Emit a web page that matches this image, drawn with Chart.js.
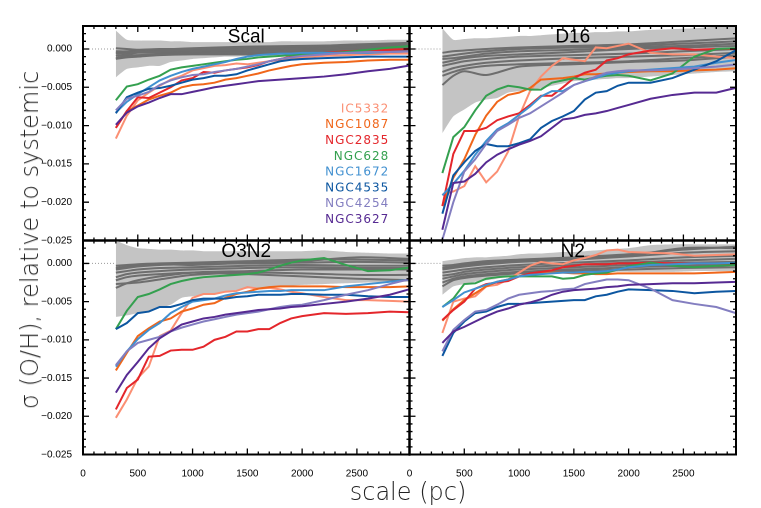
<!DOCTYPE html>
<html>
<head>
<meta charset="utf-8">
<script src="https://cdn.jsdelivr.net/npm/chart.js@4.4.1/dist/chart.umd.min.js"></script>
<style>
  html, body { margin: 0; padding: 0; background: #fff; }
  #wrap { position: relative; width: 761px; height: 508px; overflow: hidden; }
  #wrap canvas { position: absolute; left: 0; top: 0; }
  .ytitle, .xtitle {
    position: absolute; white-space: nowrap; color: #222;
    font-family: 'DejaVu Sans'; font-weight: 200; font-size: 24px; line-height: 24px;
  }
  .ytitle { left: 30px; top: 240px; transform: translate(-50%, -50%) rotate(-90deg); }
  .xtitle { left: 408px; top: 480px; transform: translateX(-50%); }
</style>
</head>
<body>
<div id="wrap">
  <canvas id="pScal" width="761" height="508"></canvas>
  <canvas id="pD16" width="761" height="508"></canvas>
  <canvas id="pO3N2" width="761" height="508"></canvas>
  <canvas id="pN2" width="761" height="508"></canvas>
  <div class="ytitle">σ (O/H), relative to systemic</div>
  <div class="xtitle">scale (pc)</div>
</div>
<script>
// scale (pc) sampling of the galaxy curves and of the grey comparison curves
const xs = [300, 400, 500, 600, 700, 800, 900, 1000, 1100, 1200, 1300, 1400, 1500, 1600, 1700, 1800, 1900, 2000, 2200, 2400, 2600, 2800, 3000];
const grayX = [300, 400, 500, 700, 1000, 1500, 2000, 2500, 3000];

const galaxies = ['IC5332', 'NGC1087', 'NGC2835', 'NGC628', 'NGC1672', 'NGC4535', 'NGC4254', 'NGC3627'];
const galaxyColors = ['#fb8f73', '#f0661a', '#e4262b', '#34a04f', '#4190d0', '#0c56a0', '#837ec0', '#562a92'];

const panelTitles = ['Scal', 'D16', 'O3N2', 'N2'];

const xTicks = [0, 500, 1000, 1500, 2000, 2500];
const xTickLabels = ['0', '500', '1000', '1500', '2000', '2500'];
const yTicks = [-0.025, -0.02, -0.015, -0.01, -0.005, 0];
const yTickLabels = ['\u22120.025', '\u22120.020', '\u22120.015', '\u22120.010', '\u22120.005', '0.000'];

// ---- Scal ----
const scalLines = [
  [-0.0117, -0.0087, -0.0067, -0.0057, -0.0048, -0.0040, -0.0035, -0.0028, -0.0025, -0.0022, -0.0021, -0.0019, -0.0020, -0.0018, -0.0016, -0.0014, -0.0012, -0.0011, -0.0009, -0.0008, -0.0007, -0.0006, -0.0006],
  [-0.0103, -0.0081, -0.0074, -0.0066, -0.0061, -0.0057, -0.0050, -0.0047, -0.0046, -0.0044, -0.0040, -0.0038, -0.0035, -0.0032, -0.0028, -0.0025, -0.0022, -0.0020, -0.0018, -0.0017, -0.0015, -0.0014, -0.0014],
  [-0.0103, -0.0081, -0.0063, -0.0064, -0.0057, -0.0050, -0.0041, -0.0038, -0.0030, -0.0031, -0.0028, -0.0026, -0.0024, -0.0021, -0.0016, -0.0013, -0.0010, -0.0008, -0.0005, -0.0003, -0.0002, -0.0001, 0.0000],
  [-0.0067, -0.0049, -0.0046, -0.0040, -0.0035, -0.0027, -0.0024, -0.0022, -0.0020, -0.0018, -0.0016, -0.0014, -0.0013, -0.0011, -0.0010, -0.0009, -0.0008, -0.0007, -0.0006, -0.0004, -0.0001, 0.0002, 0.0004],
  [-0.0083, -0.0069, -0.0059, -0.0050, -0.0041, -0.0035, -0.0030, -0.0026, -0.0023, -0.0020, -0.0017, -0.0013, -0.0010, -0.0008, -0.0007, -0.0006, -0.0006, -0.0005, -0.0005, -0.0005, -0.0005, -0.0004, -0.0003],
  [-0.0084, -0.0063, -0.0057, -0.0052, -0.0051, -0.0048, -0.0044, -0.0040, -0.0038, -0.0035, -0.0035, -0.0033, -0.0028, -0.0024, -0.0020, -0.0016, -0.0014, -0.0013, -0.0012, -0.0011, -0.0010, -0.0010, -0.0010],
  [-0.0080, -0.0065, -0.0061, -0.0056, -0.0047, -0.0041, -0.0037, -0.0034, -0.0033, -0.0030, -0.0028, -0.0026, -0.0023, -0.0020, -0.0016, -0.0013, -0.0011, -0.0009, -0.0007, -0.0005, -0.0004, -0.0004, -0.0003],
  [-0.0099, -0.0083, -0.0075, -0.0070, -0.0064, -0.0059, -0.0059, -0.0056, -0.0053, -0.0050, -0.0048, -0.0046, -0.0044, -0.0042, -0.0041, -0.0040, -0.0039, -0.0038, -0.0036, -0.0033, -0.0029, -0.0026, -0.0021]
];
const scalBandHi = [0.0024, 0.0012, 0.0011, 0.0011, 0.0011, 0.0010, 0.0010, 0.0009, 0.0009, 0.0009, 0.0009, 0.0009, 0.0009, 0.0009, 0.0009, 0.0010, 0.0010, 0.0010, 0.0010, 0.0011, 0.0011, 0.0012, 0.0012];
const scalBandLo = [-0.0037, -0.0026, -0.0024, -0.0022, -0.0022, -0.0017, -0.0015, -0.0013, -0.0012, -0.0011, -0.0010, -0.0010, -0.0009, -0.0009, -0.0009, -0.0008, -0.0008, -0.0008, -0.0007, -0.0007, -0.0006, -0.0006, -0.0006];
const scalGray = [
  [0.0001, 0.0000, -0.0001, 0.0000, 0.0000, 0.0002, 0.0003, 0.0006, 0.0008],
  [-0.0003, -0.0003, -0.0002, -0.0002, -0.0002, 0.0000, 0.0002, 0.0004, 0.0006],
  [-0.0006, -0.0005, -0.0004, -0.0004, -0.0003, -0.0002, 0.0000, 0.0002, 0.0004],
  [-0.0009, -0.0007, -0.0005, -0.0005, -0.0005, -0.0004, -0.0002, 0.0000, 0.0002],
  [-0.0012, -0.0009, -0.0008, -0.0007, -0.0006, -0.0005, -0.0004, -0.0002, 0.0000],
  [-0.0005, -0.0004, -0.0003, -0.0001, 0.0001, 0.0003, 0.0004, 0.0005, 0.0005],
  [-0.0013, -0.0011, -0.0010, -0.0008, -0.0007, -0.0007, -0.0005, -0.0003, -0.0002]
];

// ---- D16 ----
const d16Lines = [
  [-0.0190, -0.0186, -0.0179, -0.0153, -0.0174, -0.0160, -0.0134, -0.0088, -0.0055, -0.0036, -0.0022, -0.0012, -0.0014, -0.0016, 0.0002, 0.0001, 0.0004, 0.0007, -0.0005, -0.0007, -0.0007, -0.0010, -0.0012],
  [-0.0205, -0.0168, -0.0144, -0.0112, -0.0087, -0.0069, -0.0060, -0.0057, -0.0051, -0.0040, -0.0039, -0.0038, -0.0036, -0.0033, -0.0033, -0.0032, -0.0031, -0.0030, -0.0029, -0.0029, -0.0028, -0.0027, -0.0025],
  [-0.0205, -0.0137, -0.0107, -0.0107, -0.0103, -0.0093, -0.0088, -0.0084, -0.0073, -0.0061, -0.0061, -0.0050, -0.0038, -0.0031, -0.0027, -0.0015, -0.0012, -0.0007, -0.0002, 0.0001, -0.0001, 0.0000, 0.0000],
  [-0.0162, -0.0115, -0.0102, -0.0080, -0.0061, -0.0053, -0.0048, -0.0050, -0.0053, -0.0053, -0.0044, -0.0041, -0.0038, -0.0040, -0.0037, -0.0035, -0.0034, -0.0035, -0.0041, -0.0032, -0.0010, 0.0000, 0.0001],
  [-0.0191, -0.0176, -0.0159, -0.0138, -0.0120, -0.0105, -0.0097, -0.0086, -0.0075, -0.0062, -0.0055, -0.0055, -0.0047, -0.0042, -0.0038, -0.0033, -0.0031, -0.0029, -0.0027, -0.0025, -0.0023, -0.0018, -0.0014],
  [-0.0215, -0.0165, -0.0148, -0.0133, -0.0124, -0.0127, -0.0127, -0.0123, -0.0118, -0.0103, -0.0094, -0.0088, -0.0081, -0.0066, -0.0057, -0.0055, -0.0048, -0.0044, -0.0044, -0.0038, -0.0027, -0.0016, 0.0000],
  [-0.0249, -0.0200, -0.0160, -0.0144, -0.0124, -0.0107, -0.0099, -0.0090, -0.0084, -0.0075, -0.0066, -0.0057, -0.0047, -0.0042, -0.0036, -0.0031, -0.0029, -0.0028, -0.0028, -0.0027, -0.0025, -0.0023, -0.0020],
  [-0.0236, -0.0175, -0.0173, -0.0163, -0.0148, -0.0138, -0.0131, -0.0125, -0.0120, -0.0114, -0.0103, -0.0092, -0.0090, -0.0086, -0.0084, -0.0081, -0.0077, -0.0073, -0.0065, -0.0060, -0.0057, -0.0057, -0.0050]
];
const d16BandHi = [0.0027, 0.0012, 0.0013, 0.0014, 0.0014, 0.0015, 0.0016, 0.0017, 0.0017, 0.0018, 0.0019, 0.0020, 0.0021, 0.0021, 0.0022, 0.0022, 0.0023, 0.0023, 0.0025, 0.0026, 0.0027, 0.0029, 0.0030];
const d16BandLo = [-0.0110, -0.0088, -0.0079, -0.0070, -0.0066, -0.0064, -0.0057, -0.0055, -0.0053, -0.0051, -0.0048, -0.0045, -0.0042, -0.0041, -0.0040, -0.0039, -0.0038, -0.0038, -0.0036, -0.0034, -0.0032, -0.0030, -0.0029];
const d16Gray = [
  [-0.0005, -0.0003, -0.0002, 0.0000, 0.0002, 0.0004, 0.0006, 0.0010, 0.0014],
  [-0.0010, -0.0008, -0.0006, -0.0003, 0.0000, 0.0002, 0.0004, 0.0007, 0.0010],
  [-0.0013, -0.0012, -0.0010, -0.0006, -0.0003, -0.0001, 0.0002, 0.0004, 0.0007],
  [-0.0018, -0.0015, -0.0012, -0.0009, -0.0007, -0.0004, 0.0000, 0.0002, 0.0004],
  [-0.0022, -0.0019, -0.0016, -0.0013, -0.0010, -0.0008, -0.0006, -0.0003, 0.0000],
  [-0.0030, -0.0025, -0.0022, -0.0018, -0.0015, -0.0012, -0.0010, -0.0008, -0.0005],
  [-0.0035, -0.0030, -0.0026, -0.0022, -0.0020, -0.0018, -0.0016, -0.0012, -0.0008],
  [-0.0047, -0.0035, -0.0029, -0.0034, -0.0023, -0.0020, -0.0017, -0.0015, -0.0010]
];

// ---- O3N2 ----
const o3n2Lines = [
  [-0.0202, -0.0178, -0.0150, -0.0135, -0.0095, -0.0088, -0.0065, -0.0045, -0.0040, -0.0040, -0.0037, -0.0036, -0.0031, -0.0033, -0.0032, -0.0034, -0.0037, -0.0039, -0.0044, -0.0048, -0.0048, -0.0049, -0.0050],
  [-0.0140, -0.0117, -0.0095, -0.0085, -0.0076, -0.0072, -0.0063, -0.0059, -0.0054, -0.0052, -0.0045, -0.0040, -0.0037, -0.0033, -0.0031, -0.0030, -0.0030, -0.0030, -0.0030, -0.0031, -0.0031, -0.0031, -0.0030],
  [-0.0191, -0.0163, -0.0152, -0.0122, -0.0121, -0.0114, -0.0113, -0.0113, -0.0109, -0.0100, -0.0096, -0.0089, -0.0089, -0.0086, -0.0086, -0.0078, -0.0072, -0.0069, -0.0065, -0.0066, -0.0065, -0.0063, -0.0064],
  [-0.0086, -0.0062, -0.0044, -0.0040, -0.0034, -0.0027, -0.0023, -0.0020, -0.0018, -0.0017, -0.0016, -0.0015, -0.0014, -0.0012, -0.0008, -0.0003, 0.0001, 0.0004, 0.0007, -0.0002, -0.0010, -0.0009, -0.0005],
  [-0.0135, -0.0115, -0.0099, -0.0087, -0.0078, -0.0065, -0.0057, -0.0050, -0.0048, -0.0046, -0.0042, -0.0039, -0.0038, -0.0037, -0.0036, -0.0036, -0.0035, -0.0035, -0.0035, -0.0030, -0.0027, -0.0024, -0.0021],
  [-0.0086, -0.0078, -0.0065, -0.0063, -0.0057, -0.0057, -0.0053, -0.0048, -0.0046, -0.0046, -0.0046, -0.0044, -0.0043, -0.0041, -0.0041, -0.0041, -0.0040, -0.0040, -0.0041, -0.0041, -0.0043, -0.0044, -0.0044],
  [-0.0133, -0.0115, -0.0104, -0.0100, -0.0096, -0.0089, -0.0084, -0.0080, -0.0076, -0.0073, -0.0070, -0.0067, -0.0065, -0.0063, -0.0060, -0.0057, -0.0055, -0.0054, -0.0048, -0.0041, -0.0035, -0.0027, -0.0020],
  [-0.0169, -0.0146, -0.0129, -0.0111, -0.0098, -0.0089, -0.0080, -0.0076, -0.0072, -0.0070, -0.0067, -0.0065, -0.0063, -0.0061, -0.0060, -0.0059, -0.0057, -0.0056, -0.0053, -0.0050, -0.0046, -0.0041, -0.0033]
];
const o3n2BandHi = [0.0030, 0.0024, 0.0020, 0.0019, 0.0018, 0.0018, 0.0017, 0.0017, 0.0016, 0.0016, 0.0016, 0.0016, 0.0016, 0.0016, 0.0016, 0.0016, 0.0016, 0.0016, 0.0017, 0.0015, 0.0014, 0.0013, 0.0013];
const o3n2BandLo = [-0.0070, -0.0068, -0.0065, -0.0063, -0.0058, -0.0054, -0.0045, -0.0043, -0.0041, -0.0039, -0.0037, -0.0035, -0.0033, -0.0032, -0.0031, -0.0030, -0.0029, -0.0028, -0.0027, -0.0026, -0.0025, -0.0024, -0.0024];
const o3n2Gray = [
  [-0.0003, -0.0002, -0.0001, 0.0000, 0.0001, 0.0003, 0.0005, 0.0005, 0.0004],
  [-0.0008, -0.0006, -0.0004, -0.0002, -0.0001, 0.0000, 0.0001, 0.0002, 0.0001],
  [-0.0012, -0.0010, -0.0008, -0.0006, -0.0005, -0.0003, -0.0002, -0.0003, -0.0003],
  [-0.0018, -0.0014, -0.0012, -0.0010, -0.0008, -0.0006, -0.0005, -0.0006, -0.0006],
  [-0.0022, -0.0018, -0.0016, -0.0014, -0.0012, -0.0014, -0.0017, -0.0020, -0.0022],
  [-0.0027, -0.0026, -0.0025, -0.0021, -0.0015, -0.0012, -0.0013, -0.0015, -0.0015],
  [-0.0032, -0.0026, -0.0022, -0.0017, -0.0012, -0.0010, -0.0008, -0.0008, -0.0008],
  [-0.0006, -0.0004, -0.0003, -0.0001, -0.0002, 0.0001, 0.0003, 0.0008, 0.0006]
];

// ---- N2 ----
const n2Lines = [
  [-0.0091, -0.0050, -0.0046, -0.0043, -0.0030, -0.0028, -0.0021, -0.0012, -0.0003, 0.0002, 0.0000, -0.0001, 0.0004, 0.0007, 0.0011, 0.0017, 0.0018, 0.0015, 0.0014, 0.0013, 0.0010, 0.0011, 0.0012],
  [-0.0075, -0.0060, -0.0048, -0.0039, -0.0030, -0.0024, -0.0021, -0.0017, -0.0014, -0.0013, -0.0012, -0.0012, -0.0013, -0.0013, -0.0014, -0.0014, -0.0013, -0.0013, -0.0013, -0.0013, -0.0013, -0.0012, -0.0011],
  [-0.0074, -0.0061, -0.0050, -0.0033, -0.0027, -0.0025, -0.0023, -0.0017, -0.0013, -0.0011, -0.0009, -0.0005, -0.0003, -0.0001, -0.0001, -0.0001, 0.0000, 0.0000, 0.0001, 0.0000, 0.0000, 0.0000, 0.0000],
  [-0.0057, -0.0046, -0.0027, -0.0026, -0.0020, -0.0018, -0.0017, -0.0017, -0.0017, -0.0017, -0.0017, -0.0020, -0.0019, -0.0015, -0.0013, -0.0012, -0.0008, -0.0004, 0.0001, -0.0003, -0.0005, -0.0003, -0.0002],
  [-0.0057, -0.0048, -0.0038, -0.0033, -0.0028, -0.0024, -0.0021, -0.0017, -0.0015, -0.0014, -0.0013, -0.0012, -0.0012, -0.0011, -0.0011, -0.0010, -0.0008, -0.0005, -0.0002, -0.0001, 0.0000, 0.0000, 0.0001],
  [-0.0121, -0.0091, -0.0076, -0.0065, -0.0063, -0.0057, -0.0053, -0.0053, -0.0052, -0.0051, -0.0050, -0.0049, -0.0048, -0.0048, -0.0043, -0.0041, -0.0037, -0.0034, -0.0035, -0.0036, -0.0039, -0.0037, -0.0036],
  [-0.0115, -0.0087, -0.0074, -0.0063, -0.0061, -0.0054, -0.0046, -0.0041, -0.0039, -0.0037, -0.0036, -0.0034, -0.0033, -0.0027, -0.0024, -0.0021, -0.0021, -0.0022, -0.0033, -0.0048, -0.0053, -0.0057, -0.0066],
  [-0.0104, -0.0089, -0.0083, -0.0076, -0.0069, -0.0063, -0.0059, -0.0054, -0.0051, -0.0047, -0.0041, -0.0037, -0.0035, -0.0034, -0.0033, -0.0031, -0.0030, -0.0028, -0.0027, -0.0026, -0.0026, -0.0025, -0.0024]
];
const n2BandHi = [0.0003, 0.0005, 0.0007, 0.0008, 0.0008, 0.0009, 0.0010, 0.0012, 0.0013, 0.0013, 0.0014, 0.0015, 0.0015, 0.0016, 0.0017, 0.0018, 0.0019, 0.0020, 0.0024, 0.0025, 0.0025, 0.0025, 0.0025];
const n2BandLo = [-0.0041, -0.0030, -0.0027, -0.0024, -0.0022, -0.0020, -0.0017, -0.0015, -0.0014, -0.0014, -0.0013, -0.0013, -0.0013, -0.0012, -0.0012, -0.0012, -0.0011, -0.0011, -0.0011, -0.0011, -0.0010, -0.0010, -0.0010];
const n2Gray = [
  [-0.0003, -0.0002, 0.0000, 0.0003, 0.0005, 0.0008, 0.0012, 0.0018, 0.0022],
  [-0.0008, -0.0006, -0.0004, -0.0001, 0.0002, 0.0005, 0.0009, 0.0014, 0.0016],
  [-0.0012, -0.0010, -0.0008, -0.0005, -0.0002, 0.0001, 0.0004, 0.0008, 0.0010],
  [-0.0016, -0.0014, -0.0011, -0.0008, -0.0005, -0.0002, 0.0001, 0.0004, 0.0006],
  [-0.0020, -0.0017, -0.0014, -0.0011, -0.0008, -0.0005, -0.0002, 0.0001, 0.0002],
  [-0.0025, -0.0020, -0.0017, -0.0014, -0.0011, -0.0008, -0.0005, -0.0003, -0.0002],
  [-0.0030, -0.0022, -0.0019, -0.0016, -0.0013, -0.0010, -0.0008, -0.0006, -0.0005],
  [-0.0006, -0.0004, -0.0002, 0.0001, 0.0003, 0.0006, 0.0010, 0.0020, 0.0020]
];

// panel frames in page pixels
const colX = [[83, 409.5], [409.5, 736]];
const rowY = [[26, 240.5], [240.5, 454.5]];
const W = 761, H = 508;

const pts = (x, y) => x.map((v, i) => ({ x: v, y: y[i] }));

// inside tick marks on all four sides, zero line, title, frame
const framePlugin = {
  id: 'frame',
  beforeDatasetsDraw(chart) {
    const { ctx, chartArea: a, scales: { y } } = chart;
    const y0 = y.getPixelForValue(0);
    ctx.save();
    ctx.strokeStyle = '#999';
    ctx.lineWidth = 1;
    ctx.setLineDash([1, 2]);
    ctx.beginPath();
    ctx.moveTo(a.left, y0);
    ctx.lineTo(a.right, y0);
    ctx.stroke();
    ctx.restore();
  },
  afterDatasetsDraw(chart, args, opts) {
    const { ctx, chartArea: a, scales: { x, y } } = chart;
    ctx.save();
    ctx.strokeStyle = '#000';
    ctx.lineWidth = 1.3;
    ctx.beginPath();
    for (let v = 0; v <= x.max; v += 100) {
      const px = x.getPixelForValue(v);
      const len = v % 500 === 0 ? 6 : 3;
      ctx.moveTo(px, a.bottom); ctx.lineTo(px, a.bottom - len);
      ctx.moveTo(px, a.top); ctx.lineTo(px, a.top + len);
    }
    for (let k = -25; k <= 3; k++) {
      const py = y.getPixelForValue(k / 1000);
      const len = k % 5 === 0 ? 6 : 3;
      ctx.moveTo(a.left, py); ctx.lineTo(a.left + len, py);
      ctx.moveTo(a.right, py); ctx.lineTo(a.right - len, py);
    }
    ctx.stroke();
    ctx.lineWidth = 2;
    ctx.strokeRect(a.left, a.top, a.right - a.left, a.bottom - a.top);

    ctx.fillStyle = '#000';
    ctx.font = '19px "Liberation Sans", Arial, sans-serif';
    ctx.textAlign = 'center';
    ctx.textBaseline = 'alphabetic';
    ctx.fillText(opts.title, (a.left + a.right) / 2, a.top + 16.5);

    if (opts.legend) {
      ctx.font = '12px "DejaVu Sans", sans-serif';
      ctx.letterSpacing = '1px';
      ctx.textAlign = 'right';
      ctx.textBaseline = 'middle';
      galaxies.forEach((g, i) => {
        ctx.fillStyle = galaxyColors[i];
        ctx.fillText(g, 389.3, 109.3 + i * 15.8);
      });
    }
    ctx.restore();
  }
};

function makePanel(id, idx, lines, bandHi, bandLo, gray) {
  const col = idx % 2, row = Math.floor(idx / 2);
  const [left, right] = colX[col];
  const [top, bottom] = rowY[row];
  const showY = col === 0, showX = row === 1;

  const datasets = [];
  lines.forEach((vals, i) => {
    datasets.push({
      label: galaxies[i], data: pts(xs, vals),
      borderColor: galaxyColors[i], borderWidth: 2,
      pointRadius: 0, fill: false, tension: 0, order: 8 - i
    });
  });
  gray.forEach((vals, i) => {
    datasets.push({
      label: 'ref' + i, data: pts(grayX, vals),
      borderColor: '#6e6e6e', borderWidth: 2,
      pointRadius: 0, fill: false, tension: 0.3, order: 50
    });
  });
  datasets.push({
    label: 'bandHi', data: pts(xs, bandHi),
    borderWidth: 0, borderColor: 'rgba(0,0,0,0)', backgroundColor: '#c4c4c4',
    pointRadius: 0, fill: '+1', tension: 0.2, order: 100
  });
  datasets.push({
    label: 'bandLo', data: pts(xs, bandLo),
    borderWidth: 0, borderColor: 'rgba(0,0,0,0)',
    pointRadius: 0, fill: false, tension: 0.2, order: 101
  });

  return new Chart(document.getElementById(id), {
    type: 'line',
    data: { datasets },
    plugins: [framePlugin],
    options: {
      responsive: false,
      animation: false,
      devicePixelRatio: 2,
      layout: {
        padding: {
          left: showY ? 0 : left,
          top: top,
          right: W - right,
          bottom: showX ? 0 : H - bottom
        }
      },
      scales: {
        x: {
          type: 'linear', min: 0, max: 2980,
          display: showX,
          afterBuildTicks: s => { s.ticks = xTicks.map(v => ({ value: v })); },
          afterFit: s => { if (showX) s.height = H - bottom; },
          ticks: {
            callback: (v, i) => xTickLabels[i],
            font: { family: 'Liberation Sans', size: 10 }, color: '#000',
            padding: 5, maxRotation: 0, autoSkip: false
          },
          grid: { display: false }, border: { display: false }
        },
        y: {
          type: 'linear', min: -0.025, max: 0.003,
          display: showY,
          afterBuildTicks: s => { s.ticks = yTicks.map(v => ({ value: v })); },
          afterFit: s => { if (showY) s.width = left; },
          ticks: {
            callback: (v, i) => yTickLabels[i],
            font: { family: 'Liberation Sans', size: 10 }, color: '#000',
            padding: 3, autoSkip: false
          },
          grid: { display: false }, border: { display: false }
        }
      },
      plugins: {
        legend: { display: false },
        tooltip: { enabled: false },
        frame: { title: panelTitles[idx], legend: idx === 0 }
      }
    }
  });
}

makePanel('pScal', 0, scalLines, scalBandHi, scalBandLo, scalGray);
makePanel('pD16', 1, d16Lines, d16BandHi, d16BandLo, d16Gray);
makePanel('pO3N2', 2, o3n2Lines, o3n2BandHi, o3n2BandLo, o3n2Gray);
makePanel('pN2', 3, n2Lines, n2BandHi, n2BandLo, n2Gray);
</script>
</body>
</html>
